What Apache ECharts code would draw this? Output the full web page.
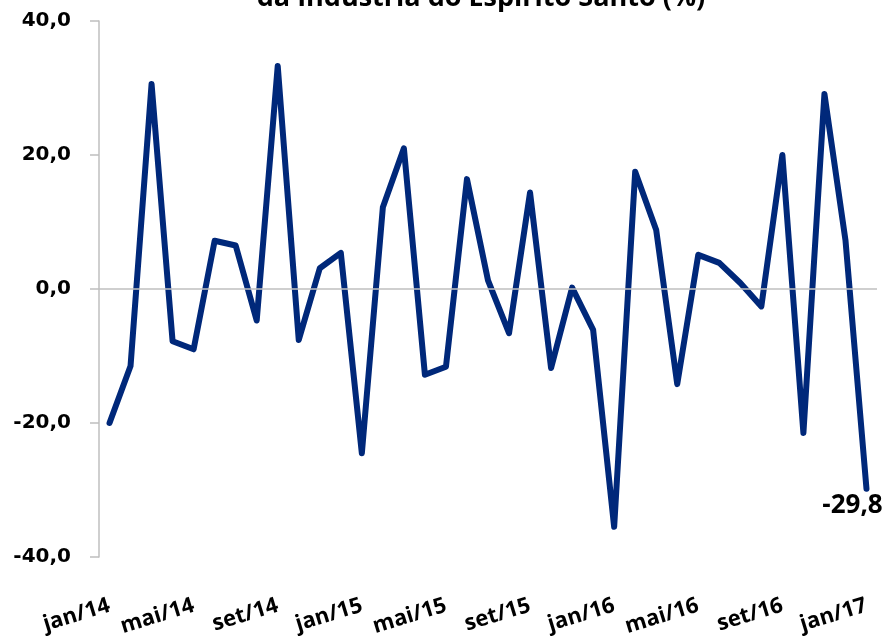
<!DOCTYPE html>
<html>
<head>
<meta charset="utf-8">
<script src="https://cdn.jsdelivr.net/npm/echarts@6/dist/echarts.min.js"></script>
<style>
html,body{margin:0;padding:0;background:#fff;}
#main{width:889px;height:636px;}
</style>
</head>
<body>
<div id="main"></div>
<script>
const titleText = 'da Indústria do Espírito Santo (%)';
const categories = [
  'jan/14','fev/14','mar/14','abr/14','mai/14','jun/14','jul/14','ago/14','set/14','out/14','nov/14','dez/14',
  'jan/15','fev/15','mar/15','abr/15','mai/15','jun/15','jul/15','ago/15','set/15','out/15','nov/15','dez/15',
  'jan/16','fev/16','mar/16','abr/16','mai/16','jun/16','jul/16','ago/16','set/16','out/16','nov/16','dez/16',
  'jan/17'
];
const values = [
  -20.0, -11.5, 30.6, -7.8, -9.0, 7.2, 6.5, -4.7, 33.3, -7.6, 3.1, 5.4,
  -24.5, 12.2, 21.0, -12.8, -11.6, 16.4, 1.3, -6.6, 14.4, -11.8, 0.2, -6.1,
  -35.5, 17.5, 8.8, -14.2, 5.1, 3.9, 0.9, -2.6, 20.0, -21.5, 29.1, 7.3,
  -29.8
];
const yMin = -40, yMax = 40, yStep = 20;

const chart = echarts.init(document.getElementById('main'), null, {renderer: 'canvas'});
const fmt = v => v.toFixed(1).replace('.', ',');
const lineColor = '#00287a';
const seriesData = values.map((v, i) => i === values.length - 1 ? {
  value: v,
  label: {
    show: true, position: [-13, 5], align: 'center', verticalAlign: 'top',
    formatter: p => fmt(p.value),
    fontFamily: 'Open Sans', fontWeight: 'bold', fontSize: 26, color: '#000'
  }
} : v);

chart.setOption({
  animation: false,
  graphic: [{
    type: 'text', x: 481, y: 12, silent: true,
    style: {
      text: titleText, textAlign: 'center', textVerticalAlign: 'bottom',
      fontFamily: 'Open Sans', fontWeight: 'bold', fontSize: 27, fill: '#000'
    }
  }],
  grid: {left: 99, right: 12, top: 21, bottom: 79, containLabel: false, outerBoundsMode: 'none'},
  xAxis: {
    type: 'category',
    data: categories,
    boundaryGap: true,
    axisLine: {show: false},
    axisTick: {show: false},
    axisLabel: {
      interval: 3, rotate: 17, margin: 48,
      fontFamily: 'Open Sans', fontWeight: 'bold', fontSize: 22, color: '#000'
    }
  },
  yAxis: {
    type: 'value',
    min: yMin, max: yMax, interval: yStep,
    axisLine: {show: true, lineStyle: {color: '#bfbfbf', width: 1.5}},
    axisTick: {show: true, length: 9, lineStyle: {color: '#bfbfbf', width: 1.5}},
    splitLine: {show: false},
    axisLabel: {
      margin: 28,
      formatter: fmt,
      fontFamily: 'DejaVu Sans', fontWeight: 'bold', fontSize: 20, color: '#000'
    }
  },
  series: [{
    type: 'line',
    data: seriesData,
    showSymbol: true,
    showAllSymbol: true,
    symbol: 'circle',
    symbolSize: 2,
    lineStyle: {color: lineColor, width: 6, join: 'round', cap: 'round'},
    itemStyle: {color: lineColor},
    labelLayout: {hideOverlap: false},
    markLine: {
      silent: true, symbol: 'none',
      label: {show: false},
      lineStyle: {color: '#bfbfbf', type: 'solid', width: 1.5},
      data: [{yAxis: 0}]
    },
    z: 3
  }]
});
</script>
</body>
</html>
